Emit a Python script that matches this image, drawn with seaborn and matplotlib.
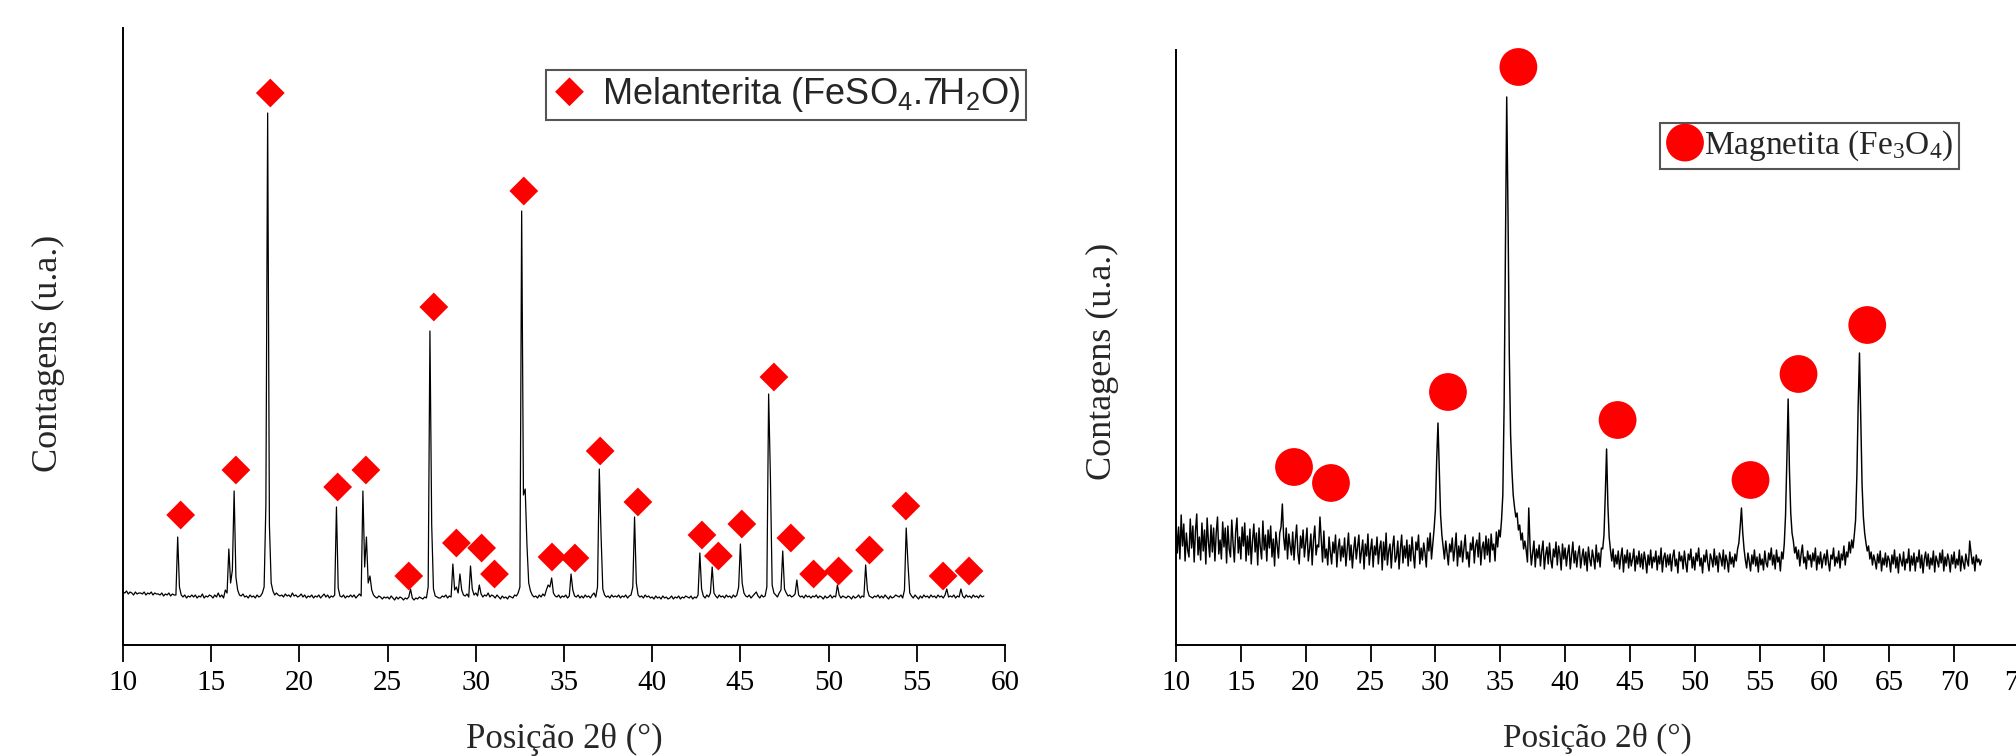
import numpy as np
import pandas as pd
import matplotlib
matplotlib.use("Agg")
import matplotlib.pyplot as plt
import seaborn as sns

# ---------------- data ----------------
# Left pattern: counts every 0.1 deg from 10.0 deg
left_start = 10.0
left_step = 0.1
left_10_19 = [
    53, 52, 54, 51, 53, 52, 50, 53, 51, 52,
    52, 51, 53, 50, 52, 51, 53, 50, 52, 51,
    51, 50, 52, 49, 51, 50, 52, 49, 51, 50,
    50, 108, 58, 50, 48, 50, 47, 49, 48, 50,
    48, 50, 47, 49, 48, 51, 47, 49, 48, 50,
    49, 47, 50, 48, 52, 48, 50, 47, 55, 52,
    96, 62, 75, 154, 68, 55, 50, 49, 51, 48,
    49, 47, 50, 48, 49, 47, 50, 48, 49, 52,
    58, 140, 532, 120, 62, 54, 50, 52, 50, 49,
    50, 48, 51, 49, 50, 48, 52, 49, 50, 48,
]
left_20_29 = [
    49, 51, 48, 50, 47, 49, 48, 50, 47, 49,
    48, 50, 47, 49, 51, 48, 50, 47, 49, 48,
    50, 138, 57, 49, 48, 50, 47, 49, 48, 50,
    48, 50, 47, 49, 51, 49, 154, 78, 108, 62,
    69, 55, 50, 48, 47, 49, 48, 46, 48, 47,
    48, 46, 49, 47, 45, 48, 46, 48, 47, 45,
    47, 46, 48, 56, 47, 45, 47, 46, 48, 47,
    46, 48, 47, 58, 314, 120, 56, 49, 48, 47,
    47, 49, 48, 50, 47, 49, 48, 81, 55, 58,
    52, 71, 55, 50, 49, 51, 48, 79, 56, 50,
]
left_30_39 = [
    52, 49, 60, 51, 48, 50, 49, 52, 48, 50,
    49, 47, 50, 48, 46, 49, 47, 48, 46, 49,
    48, 47, 50, 49, 52, 58, 434, 150, 156, 100,
    62, 54, 50, 48, 49, 47, 50, 48, 51, 49,
    55, 60, 58, 67, 52, 49, 48, 50, 47, 49,
    48, 50, 47, 49, 71, 55, 49, 48, 50, 47,
    49, 47, 50, 48, 49, 47, 50, 52, 48, 58,
    176, 110, 56, 50, 48, 49, 47, 50, 48, 49,
    48, 50, 47, 49, 48, 50, 47, 49, 50, 58,
    128, 62, 50, 48, 49, 47, 50, 48, 49, 47,
]
left_40_49 = [
    48, 46, 49, 47, 48, 46, 49, 47, 48, 46,
    47, 49, 46, 48, 47, 49, 46, 48, 47, 49,
    48, 47, 49, 46, 48, 47, 50, 92, 56, 49,
    47, 50, 48, 52, 78, 52, 49, 47, 50, 48,
    49, 47, 50, 48, 49, 47, 50, 48, 50, 58,
    101, 62, 52, 49, 48, 50, 47, 49, 51, 53,
    49, 47, 50, 48, 49, 58, 251, 169, 60, 52,
    50, 48, 52, 55, 94, 56, 52, 49, 50, 48,
    49, 51, 65, 50, 48, 49, 47, 50, 48, 49,
    47, 49, 48, 50, 47, 49, 48, 46, 49, 47,
]
left_50_58 = [
    48, 50, 47, 49, 48, 60, 50, 47, 49, 48,
    47, 49, 48, 46, 49, 47, 48, 50, 47, 49,
    48, 80, 55, 49, 48, 47, 49, 48, 50, 47,
    49, 47, 50, 48, 46, 49, 47, 48, 50, 49,
    48, 50, 47, 55, 117, 81, 52, 49, 47, 50,
    48, 46, 49, 47, 50, 48, 49, 47, 50, 48,
    49, 47, 50, 48, 49, 47, 50, 56, 48, 49,
    48, 50, 47, 49, 48, 56, 49, 47, 50, 48,
    49, 47, 50, 48, 49, 47, 50, 48, 49,
]

# Melanterite peak labels (diamonds)
mel_pos = [13.27, 16.4, 18.35, 22.17, 23.77, 26.2, 27.62, 28.9, 30.33, 31.06,
           32.72, 34.32, 35.62, 37.05, 39.19, 42.82, 43.75, 45.08, 46.9, 47.86,
           49.15, 50.57, 52.32, 54.38, 56.49, 57.96]
mel_y = [130, 175, 552, 158, 175, 69, 338, 102, 97, 71,
         454, 88, 87, 194, 143, 110, 89, 121, 268, 107,
         71, 74, 95, 139, 69, 74]

# Right pattern: counts every 0.1 deg from 10.0 deg
right_start = 10.0
right_step = 0.1
right_10_19 = [
    125, 92, 118, 86, 130, 99, 121, 84, 112, 95,
    88, 126, 97, 119, 83, 114, 131, 90, 108, 85,
    122, 94, 115, 81, 127, 103, 88, 120, 93, 117,
    84, 112, 128, 91, 105, 86, 123, 98, 117, 82,
    119, 96, 88, 125, 102, 83, 113, 127, 92, 108,
    86, 118, 99, 122, 84, 109, 90, 116, 81, 104,
    121, 93, 112, 80, 117, 98, 86, 124, 95, 110,
    84, 115, 97, 119, 88, 106, 79, 113, 100, 87,
    112, 118, 141, 108, 95, 117, 86, 111, 99, 90,
    113, 85, 104, 120, 92, 81, 109, 97, 115, 88,
]
right_20_29 = [
    102, 117, 84, 96, 111, 80, 105, 119, 90, 100,
    98, 128, 106, 83, 114, 87, 96, 80, 108, 93,
    81, 103, 92, 110, 78, 97, 106, 84, 99, 88,
    107, 79, 96, 112, 85, 100, 77, 95, 108, 86,
    98, 110, 82, 94, 105, 76, 101, 89, 111, 80,
    95, 106, 78, 99, 90, 108, 81, 97, 104, 75,
    103, 85, 112, 80, 94, 101, 77, 98, 109, 83,
    88, 104, 76, 96, 110, 82, 99, 87, 105, 79,
    100, 84, 108, 91, 77, 103, 95, 110, 81, 97,
    85, 102, 92, 78, 107, 94, 112, 86, 101, 116,
]
right_30_39 = [
    135, 185, 222, 175, 130, 110, 98, 86, 104, 92,
    80, 101, 93, 107, 84, 96, 112, 79, 99, 88,
    104, 83, 97, 110, 86, 93, 78, 102, 95, 108,
    82, 99, 105, 88, 112, 80, 97, 103, 86, 109,
    90, 106, 83, 111, 95, 101, 84, 113, 98, 115,
    108, 125, 150, 240, 400, 548, 430, 290, 210, 175,
    150, 138, 128, 132, 115, 120, 105, 112, 96, 104,
    95, 83, 137, 99, 80, 92, 104, 78, 96, 87,
    100, 79, 94, 104, 76, 90, 98, 81, 102, 85,
    77, 96, 88, 103, 80, 99, 91, 75, 101, 86,
]
right_40_49 = [
    97, 79, 92, 100, 76, 89, 103, 82, 94, 78,
    91, 99, 77, 88, 96, 80, 93, 74, 98, 86,
    79, 95, 87, 76, 100, 83, 92, 78, 97, 96,
    110, 150, 196, 140, 108, 95, 84, 96, 78, 90,
    81, 94, 76, 88, 97, 73, 90, 82, 95, 77,
    92, 79, 86, 96, 74, 89, 81, 94, 78, 91,
    76, 93, 85, 72, 90, 80, 95, 77, 88, 83,
    94, 75, 89, 81, 97, 73, 87, 92, 78, 90,
    80, 91, 74, 88, 95, 79, 86, 72, 93, 84,
    89, 76, 94, 82, 73, 91, 85, 96, 77, 88,
]
right_50_59 = [
    75, 92, 84, 97, 79, 87, 72, 90, 83, 95,
    82, 74, 91, 86, 78, 96, 80, 89, 73, 92,
    87, 79, 95, 76, 90, 84, 73, 93, 81, 88,
    78, 91, 84, 96, 102, 118, 137, 112, 96, 85,
    77, 92, 84, 74, 90, 81, 95, 79, 88, 73,
    91, 80, 86, 75, 94, 82, 78, 92, 85, 97,
    80, 90, 76, 95, 83, 88, 74, 93, 86, 101,
    130, 185, 246, 175, 132, 112, 104, 92, 98, 86,
    95, 79, 91, 100, 82, 88, 76, 94, 85, 90,
    78, 92, 84, 97, 75, 89, 81, 93, 77, 86,
]
right_60_72 = [
    91, 80, 95, 83, 74, 90, 86, 97, 79, 88,
    82, 94, 77, 91, 85, 99, 80, 93, 88, 103,
    92, 105, 97, 110, 125, 170, 240, 292, 225, 160,
    128, 112, 102, 94, 99, 86, 93, 80, 90, 84,
    76, 91, 82, 94, 74, 87, 80, 92, 78, 89,
    85, 73, 90, 81, 95, 77, 88, 72, 91, 84,
    79, 93, 75, 86, 82, 96, 74, 89, 80, 92,
    74, 88, 83, 95, 77, 90, 72, 86, 93, 79,
    91, 76, 87, 80, 94, 73, 89, 84, 78, 92,
    82, 95, 74, 88, 79, 91, 85, 73, 90, 81,
    93, 77, 86, 80, 95, 74, 89, 82, 76, 91,
    84, 79, 104, 92, 81, 88, 74, 90, 83, 86,
    80, 85,
]

# Magnetite peak labels (circles)
mag_pos = [19.1, 21.95, 30.97, 36.4, 44.05, 54.3, 58.0, 63.3]
mag_y = [178, 162, 253, 578, 225, 165, 271, 320]

left_ticks = list(range(10, 61, 5))
right_ticks = list(range(10, 76, 5))

# ---------------- build tables ----------------
left_counts = left_10_19 + left_20_29 + left_30_39 + left_40_49 + left_50_58
right_counts = right_10_19 + right_20_29 + right_30_39 + right_40_49 + right_50_59 + right_60_72
df_left = pd.DataFrame({
    "two_theta": np.round(left_start + left_step * np.arange(len(left_counts)), 2),
    "counts": left_counts,
})
df_right = pd.DataFrame({
    "two_theta": np.round(right_start + right_step * np.arange(len(right_counts)), 2),
    "counts": right_counts,
})
df_mel = pd.DataFrame({"two_theta": mel_pos, "counts": mel_y})
df_mag = pd.DataFrame({"two_theta": mag_pos, "counts": mag_y})

# ---------------- style ----------------
sns.set_style("ticks")
plt.rcParams["font.family"] = ["Liberation Serif", "DejaVu Serif"]
plt.rcParams["axes.linewidth"] = 1.4

W, H = 2016, 756
fig = plt.figure(figsize=(W / 100, H / 100), dpi=100)
fig.patch.set_facecolor("white")

ax1 = fig.add_axes([123 / W, 111 / H, 882 / W, 617 / H])
ax2 = fig.add_axes([1176 / W, 111 / H, 843 / W, 595 / H])

# left panel
sns.lineplot(data=df_left, x="two_theta", y="counts", ax=ax1, color="black",
             linewidth=0.9, estimator=None, sort=False, legend=False)
sns.scatterplot(data=df_mel, x="two_theta", y="counts", ax=ax1, marker="D", s=215,
                color="#ff0000", edgecolor="none", linewidth=0, zorder=3, clip_on=False,
                label=r"Melanterita (FeSO$\mathregular{_4}$.7H$\mathregular{_2}$O)", legend=False)
ax1.set_xlim(10, 60)
ax1.set_ylim(0, 617)
ax1.set_xticks(left_ticks)

# right panel
sns.lineplot(data=df_right, x="two_theta", y="counts", ax=ax2, color="black",
             linewidth=1.05, estimator=None, sort=False, legend=False)
sns.scatterplot(data=df_mag, x="two_theta", y="counts", ax=ax2, marker="o", s=740,
                color="#ff0000", edgecolor="none", linewidth=0, zorder=3, clip_on=False,
                label=r"Magnetita (Fe$\mathregular{_3}$O$\mathregular{_4}$)", legend=False)
ax2.set_xlim(10, 75)
ax2.set_ylim(0, 595)
ax2.set_xticks(right_ticks)

for ax, xs, xl_y, yl_x, yl_y in [(ax1, 25, -0.127, -0.085, 0.472),
                                  (ax2, 24, -0.13, -0.087, 0.476)]:
    sns.despine(ax=ax)
    ax.set_facecolor("white")
    ax.set_yticks([])
    ax.tick_params(axis="x", direction="out", length=12, width=1.3, pad=6,
                   labelsize=21, colors="black")
    for lab in ax.get_xticklabels():
        lab.set_family("Liberation Serif")
    ax.set_xlabel("Posição 2θ (°)", fontsize=xs, family="Liberation Serif")
    ax.xaxis.set_label_coords(0.5, xl_y)
    ax.set_ylabel("Contagens (u.a.)", fontsize=26, family="Liberation Serif", va="center")
    ax.yaxis.set_label_coords(yl_x, yl_y)
    ax.spines["left"].set_color("black")
    ax.spines["bottom"].set_color("black")

leg1 = ax1.legend(loc="upper left", bbox_to_anchor=(546 / W, 1 - 70 / H),
                  bbox_transform=fig.transFigure, borderaxespad=0, frameon=True,
                  fancybox=False, framealpha=1, edgecolor="#555555",
                  prop={"family": "Liberation Sans", "size": 26},
                  handlelength=1.0, handletextpad=0.4, borderpad=0.15,
                  scatteryoffsets=[0.5])
leg1.get_frame().set_linewidth(1.5)

leg2 = ax2.legend(loc="upper left", bbox_to_anchor=(1660 / W, 1 - 123 / H),
                  bbox_transform=fig.transFigure, borderaxespad=0, frameon=True,
                  fancybox=False, framealpha=1, edgecolor="#555555",
                  prop={"family": "Liberation Serif", "size": 24},
                  handlelength=1.14, handletextpad=0.0, borderpad=0.18,
                  scatteryoffsets=[0.5])
leg2.get_frame().set_linewidth(1.5)

fig.savefig("out.png", dpi=100, facecolor="white")
